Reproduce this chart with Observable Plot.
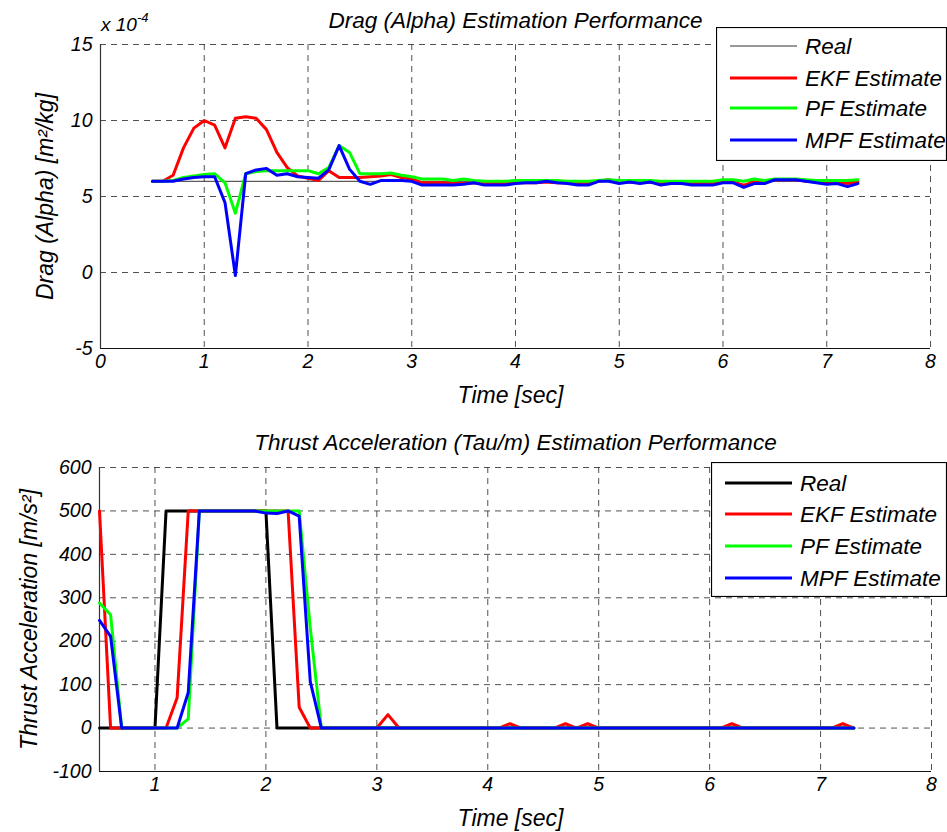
<!DOCTYPE html>
<html>
<head>
<meta charset="utf-8">
<script src="https://cdn.jsdelivr.net/npm/d3@7"></script>
<script src="https://cdn.jsdelivr.net/npm/@observablehq/plot@0.6"></script>
<style>
  html, body { margin: 0; padding: 0; background: white; }
  #wrap { position: relative; width: 947px; height: 832px; overflow: hidden; font-family: "Liberation Sans", Arial, sans-serif; }
  .panel { position: absolute; left: 0; }
  .legend { position: absolute; }
  .exp { position: absolute; font-style: italic; font-size: 19px; }
  .exp sup { font-size: 13px; position: relative; top: -2px; }
</style>
</head>
<body>
<div id="wrap"></div>
<script>
// ---------------- DATA ----------------
// Time samples [sec]
const time = [
  0.5, 0.6, 0.7, 0.8, 0.9,
  1.0, 1.1, 1.2, 1.3, 1.4, 1.5, 1.6, 1.7, 1.8, 1.9,
  2.0, 2.1, 2.2, 2.3, 2.4, 2.5, 2.6, 2.7, 2.8, 2.9,
  3.0, 3.1, 3.2, 3.3, 3.4, 3.5, 3.6, 3.7, 3.8, 3.9,
  4.0, 4.1, 4.2, 4.3, 4.4, 4.5, 4.6, 4.7, 4.8, 4.9,
  5.0, 5.1, 5.2, 5.3, 5.4, 5.5, 5.6, 5.7, 5.8, 5.9,
  6.0, 6.1, 6.2, 6.3, 6.4, 6.5, 6.6, 6.7, 6.8, 6.9,
  7.0, 7.1, 7.2, 7.3
];

// Series names
const seriesNames = ["Real", "EKF Estimate", "PF Estimate", "MPF Estimate"];

// Top panel: Drag (Alpha), values in units of 10^-4 m^2/kg
const dragRealTime = [0.5, 7.3];
const dragReal = [6, 6];
const dragEKF = [
  6.0, 6.0, 6.4, 8.2, 9.5,
  10.0, 9.7, 8.2, 10.15, 10.25, 10.15, 9.4, 7.9, 6.9, 6.35,
  6.2, 6.05, 6.7, 6.25, 6.25, 6.25, 6.3, 6.35, 6.45, 6.25,
  6.15, 5.9, 5.9, 5.9, 5.85, 5.85, 5.9, 5.85, 5.85, 5.85,
  5.9, 5.9, 5.9, 5.95, 5.9, 5.9, 5.85, 5.85, 6.0, 6.1,
  5.95, 5.95, 5.9, 5.95, 5.85, 5.9, 5.9, 5.85, 5.85, 5.85,
  5.95, 5.95, 5.75, 5.95, 5.95, 6.1, 6.1, 6.1, 6.0, 5.95,
  5.9, 5.95, 5.85, 5.95
];
const dragPF = [
  6.0, 6.0, 6.05, 6.25, 6.35,
  6.45, 6.5, 5.9, 3.9, 6.5, 6.65, 6.7, 6.7, 6.7, 6.7,
  6.7, 6.5, 6.9, 8.35, 7.9, 6.5, 6.5, 6.5, 6.55, 6.4,
  6.3, 6.15, 6.15, 6.15, 6.05, 6.15, 6.05, 6.0, 6.0, 6.0,
  6.05, 6.05, 6.05, 6.05, 6.05, 6.0, 6.0, 6.0, 6.05, 6.1,
  6.05, 6.05, 6.05, 6.05, 6.0, 6.0, 6.0, 6.0, 6.0, 6.0,
  6.1, 6.1, 6.0, 6.15, 6.05, 6.15, 6.15, 6.15, 6.1, 6.05,
  6.05, 6.05, 6.05, 6.1
];
const dragMPF = [
  6.0, 6.0, 6.0, 6.15, 6.25,
  6.3, 6.3, 4.6, -0.2, 6.5, 6.75, 6.85, 6.4, 6.5, 6.3,
  6.25, 6.2, 6.75, 8.35, 6.8, 6.0, 5.8, 6.05, 6.05, 6.05,
  6.0, 5.75, 5.75, 5.75, 5.75, 5.8, 5.9, 5.75, 5.75, 5.75,
  5.85, 5.9, 5.9, 6.0, 5.9, 5.85, 5.75, 5.75, 6.0, 6.0,
  5.85, 5.95, 5.85, 5.95, 5.75, 5.85, 5.85, 5.75, 5.75, 5.75,
  5.9, 5.9, 5.6, 5.85, 5.85, 6.1, 6.1, 6.1, 6.0, 5.9,
  5.8, 5.85, 5.65, 5.85
];

// Bottom panel: Thrust acceleration [m/s^2]
const thrustRealTime = [0.5, 1.0, 1.1, 2.0, 2.1, 7.3];
const thrustReal = [0, 0, 500, 500, 0, 0];
const thrustEKF = [
  500, 0, 0, 0, 0,
  0, 0, 70, 500, 500, 500, 500, 500, 500, 500,
  500, 500, 500, 48, 0, 0, 0, 0, 0, 0,
  0, 31, 0, 0, 0, 0, 0, 0, 0, 0,
  0, 0, 10, 0, 0, 0, 0, 10, 0, 10,
  0, 0, 0, 0, 0, 0, 0, 0, 0, 0,
  0, 0, 10, 0, 0, 0, 0, 0, 0, 0,
  0, 0, 10, 0
];
const thrustPF = [
  288, 261, 0, 0, 0,
  0, 0, 0, 21, 500, 500, 500, 500, 500, 500,
  500, 500, 500, 500, 230, 0, 0, 0, 0, 0,
  0, 0, 0, 0, 0, 0, 0, 0, 0, 0,
  0, 0, 0, 0, 0, 0, 0, 0, 0, 0,
  0, 0, 0, 0, 0, 0, 0, 0, 0, 0,
  0, 0, 0, 0, 0, 0, 0, 0, 0, 0,
  0, 0, 0, 0
];
const thrustMPF = [
  248, 211, 0, 0, 0,
  0, 0, 0, 82, 500, 500, 500, 500, 500, 500,
  495, 494, 500, 488, 107, 0, 0, 0, 0, 0,
  0, 0, 0, 0, 0, 0, 0, 0, 0, 0,
  0, 0, 0, 0, 0, 0, 0, 0, 0, 0,
  0, 0, 0, 0, 0, 0, 0, 0, 0, 0,
  0, 0, 0, 0, 0, 0, 0, 0, 0, 0,
  0, 0, 0, 0
];

// Ticks
const topXTicks = [0, 1, 2, 3, 4, 5, 6, 7, 8];
const topYTicks = [-5, 0, 5, 10, 15];
const botXTicks = [1, 2, 3, 4, 5, 6, 7, 8];
const botYTicks = [-100, 0, 100, 200, 300, 400, 500, 600];

// Text
const topTitle = "Drag (Alpha) Estimation Performance";
const topYLabel = "Drag (Alpha) [m\u00B2/kg]";
const botTitle = "Thrust Acceleration (Tau/m) Estimation Performance";
const botYLabel = "Thrust Acceleration [m/s\u00B2]";
const xLabel = "Time [sec]";

// ---------------- RENDER ----------------
const FONT = "'Liberation Sans', Arial, Helvetica, sans-serif";
const colors = { ekf: "#ff0000", pf: "#00ff00", mpf: "#0000ff" };

function toRows(t, v) { return t.map((x, i) => ({ t: x, v: v[i] })); }

function panel(cfg) {
  return Plot.plot({
    width: 947,
    height: 416,
    marginLeft: cfg.ml, marginRight: cfg.mr, marginTop: cfg.mt, marginBottom: cfg.mb,
    x: { domain: cfg.xDomain },
    y: { domain: cfg.yDomain },
    style: { fontFamily: FONT, fontStyle: "italic", fontSize: "19px", background: "white", color: "black", overflow: "visible" },
    marks: [
      Plot.gridX(cfg.xTicks, { stroke: "#333", strokeOpacity: 0.85, strokeDasharray: "6,5" }),
      Plot.gridY(cfg.yTicks, { stroke: "#333", strokeOpacity: 0.85, strokeDasharray: "6,5" }),
      Plot.ruleX([cfg.xDomain[0]], { stroke: "#333", strokeWidth: 1.2 }),
      Plot.ruleY([cfg.yDomain[0]], { stroke: "#111", strokeWidth: 1.2 }),
      Plot.axisX({ ticks: cfg.xTicks, tickSize: 0, tickPadding: 6, label: null, fontSize: 19.5, fontStyle: "italic", tickFormat: d => String(d) }),
      Plot.axisY({ ticks: cfg.yTicks, tickSize: 0, tickPadding: 8, label: null, fontSize: 19.5, fontStyle: "italic", tickFormat: d => String(d) }),
      Plot.line(toRows(cfg.realT, cfg.real), { x: "t", y: "v", stroke: cfg.realColor, strokeWidth: cfg.realWidth }),
      Plot.line(toRows(time, cfg.ekf), { x: "t", y: "v", stroke: colors.ekf, strokeWidth: 3 }),
      Plot.line(toRows(time, cfg.pf), { x: "t", y: "v", stroke: colors.pf, strokeWidth: 3 }),
      Plot.line(toRows(time, cfg.mpf), { x: "t", y: "v", stroke: colors.mpf, strokeWidth: 3 }),
      Plot.text([cfg.title], { frameAnchor: "top", textAnchor: "middle", lineAnchor: "bottom", dy: cfg.titleDy, fontSize: 22.5, fontStyle: "italic" }),
      Plot.text([xLabel], { frameAnchor: "bottom", textAnchor: "middle", lineAnchor: "middle", dx: -5, dy: cfg.xLabelDy, fontSize: 23, fontStyle: "italic" }),
      Plot.text([cfg.yLabel], { frameAnchor: "left", textAnchor: "middle", rotate: -90, lineAnchor: "middle", dx: cfg.yLabelDx, fontSize: 23, fontStyle: "italic" })
    ]
  });
}

const wrap = document.getElementById("wrap");

const topPanel = panel({
  ml: 100, mr: 17, mt: 44, mb: 68,
  xDomain: [0, 8], yDomain: [-5, 15],
  xTicks: topXTicks, yTicks: topYTicks,
  realT: dragRealTime, real: dragReal, realColor: "#333", realWidth: 1,
  ekf: dragEKF, pf: dragPF, mpf: dragMPF,
  title: topTitle, titleDy: -17, xLabelDy: 47, yLabel: topYLabel, yLabelDx: -55
});
topPanel.classList.add("panel");
topPanel.style.top = "0px";
wrap.appendChild(topPanel);

const botPanel = panel({
  ml: 99, mr: 16, mt: 51, mb: 61,
  xDomain: [0.5, 8], yDomain: [-100, 600],
  xTicks: botXTicks, yTicks: botYTicks,
  realT: thrustRealTime, real: thrustReal, realColor: "#000", realWidth: 3,
  ekf: thrustEKF, pf: thrustPF, mpf: thrustMPF,
  title: botTitle, titleDy: -18, xLabelDy: 47, yLabel: botYLabel, yLabelDx: -70
});
botPanel.classList.add("panel");
botPanel.style.top = "416px";
wrap.appendChild(botPanel);

// Exponent label
const expLabel = document.createElement("div");
expLabel.className = "exp";
expLabel.style.left = "101px";
expLabel.style.top = "12px";
expLabel.innerHTML = "x 10<sup>-4</sup>";
wrap.appendChild(expLabel);

// Legends
function legend(left, topPx, w, h, rowYs, realColor, realWidth) {
  const swatch = [
    { c: realColor, w: realWidth },
    { c: colors.ekf, w: 3 },
    { c: colors.pf, w: 3 },
    { c: colors.mpf, w: 3 }
  ];
  const svg = d3.create("svg")
    .attr("class", "legend")
    .attr("width", w).attr("height", h)
    .style("left", left + "px").style("top", topPx + "px");
  svg.append("rect").attr("x", 0.5).attr("y", 0.5).attr("width", w - 1).attr("height", h - 1)
    .attr("fill", "white").attr("stroke", "black").attr("stroke-width", 1.2);
  seriesNames.forEach((name, i) => {
    svg.append("line").attr("x1", 14).attr("x2", 81).attr("y1", rowYs[i]).attr("y2", rowYs[i])
      .attr("stroke", swatch[i].c).attr("stroke-width", swatch[i].w);
    svg.append("text").attr("x", 89).attr("y", rowYs[i]).attr("dy", "0.35em")
      .attr("font-family", FONT).attr("font-style", "italic").attr("font-size", 22.5)
      .text(name);
  });
  wrap.appendChild(svg.node());
}
legend(716, 27, 231, 134, [19, 51, 81, 113], "#333", 1);
legend(711, 462, 236, 135, [21, 52, 84, 116], "#000", 3);
</script>
</body>
</html>
